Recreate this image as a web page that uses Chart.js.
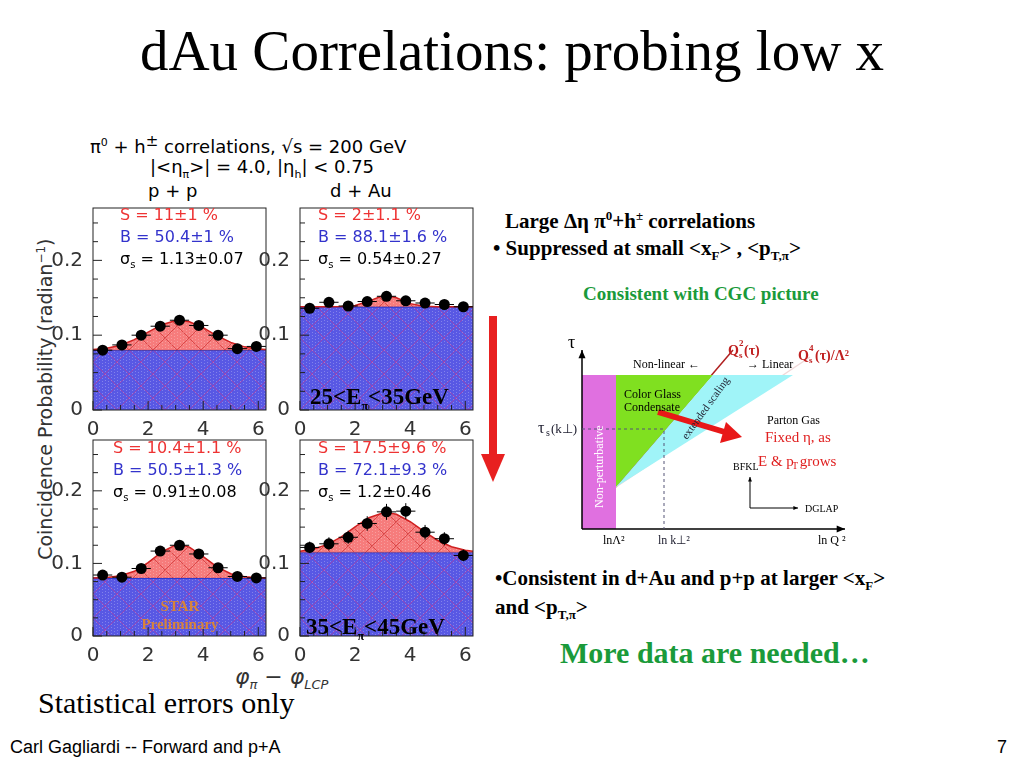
<!DOCTYPE html>
<html><head><meta charset="utf-8">
<script src="https://cdn.jsdelivr.net/npm/chart.js@4"></script>
<style>
body{margin:0;width:1024px;height:768px;position:relative;background:#fff;overflow:hidden;font-family:"Liberation Serif",serif}
.t{position:absolute;white-space:nowrap}
.h{font-family:"DejaVu Sans",sans-serif}
canvas{position:absolute}
.pt{position:absolute;font-family:"DejaVu Sans",sans-serif;font-size:16px;line-height:22px;white-space:nowrap}
</style></head><body>
<div class="t" style="left:0;width:1024px;text-align:center;top:18px;font-size:57px">dAu Correlations: probing low x</div>
<div class="t h" style="left:90px;top:132px;font-size:18px">π<sup style="font-size:11px">0</sup> + h<sup>±</sup> correlations, √s = 200 GeV</div>
<div class="t h" style="left:150px;top:156px;font-size:18px">|&lt;η<sub style="font-size:11px">π</sub>&gt;| = 4.0, |η<sub style="font-size:11px">h</sub>| &lt; 0.75</div>
<div class="t h" style="left:148px;top:180px;font-size:18px">p + p</div>
<div class="t h" style="left:330px;top:180px;font-size:18px">d + Au</div>
<div class="t h" style="left:-145px;top:388px;width:380px;text-align:center;font-size:19px;color:#333;transform:rotate(-90deg)">Coincidence Probability (radian<sup style="font-size:12px">−1</sup>)</div>
<div class="t h" style="left:235px;top:664px;font-size:22px;font-style:italic;color:#333">φ<sub style="font-size:13px">π</sub> − φ<sub style="font-size:13px">LCP</sub></div>
<div class="t" style="left:38px;top:686px;font-size:30px">Statistical errors only</div>
<div class="t" style="left:10px;top:737px;font-size:18px;font-family:'Liberation Sans',sans-serif">Carl Gagliardi -- Forward and p+A</div>
<div class="t" style="left:997px;top:737px;font-size:18px;font-family:'Liberation Sans',sans-serif">7</div>

<div class="t" style="left:505px;top:208px;font-size:21px;font-weight:bold">Large Δη π<sup style="font-size:13px">0</sup>+h<sup style="font-size:13px">±</sup> correlations</div>
<div class="t" style="left:493px;top:236px;font-size:21px;font-weight:bold">• Suppressed at small &lt;x<sub style="font-size:13px">F</sub>&gt; , &lt;p<sub style="font-size:13px">T,π</sub>&gt;</div>
<div class="t" style="left:583px;top:283px;font-size:19px;font-weight:bold;color:#1a9a3a">Consistent with CGC picture</div>
<div class="t" style="left:495px;top:566px;font-size:21px;font-weight:bold">•Consistent in d+Au and p+p at larger &lt;x<sub style="font-size:13px">F</sub>&gt;</div>
<div class="t" style="left:495px;top:595px;font-size:21px;font-weight:bold">and &lt;p<sub style="font-size:13px">T,π</sub>&gt;</div>
<div class="t" style="left:560px;top:636px;font-size:30px;font-weight:bold;color:#1a9a3a">More data are needed…</div>
<div style="position:absolute;left:489px;top:316px;width:8px;height:140px;background:#e82020"></div>
<div style="position:absolute;left:481px;top:454px;width:0;height:0;border-left:12px solid transparent;border-right:12px solid transparent;border-top:28px solid #e82020"></div>

<canvas id="c0" width="230" height="248" style="left:45px;top:194px"></canvas>
<canvas id="c1" width="230" height="248" style="left:252px;top:194px"></canvas>
<canvas id="c2" width="230" height="242" style="left:45px;top:426px"></canvas>
<canvas id="c3" width="230" height="242" style="left:252px;top:426px"></canvas>
<canvas id="cd" width="350" height="230" style="left:530px;top:330px"></canvas>

<div class="pt" style="left:120px;top:204px"><span style="color:#e33">S = 11±1 %</span><br><span style="color:#33c">B = 50.4±1 %</span><br>σ<sub style="font-size:10px">s</sub> = 1.13±0.07</div>
<div class="pt" style="left:318px;top:204px"><span style="color:#e33">S = 2±1.1 %</span><br><span style="color:#33c">B = 88.1±1.6 %</span><br>σ<sub style="font-size:10px">s</sub> = 0.54±0.27</div>
<div class="pt" style="left:113px;top:437px"><span style="color:#e33">S = 10.4±1.1 %</span><br><span style="color:#33c">B = 50.5±1.3 %</span><br>σ<sub style="font-size:10px">s</sub> = 0.91±0.08</div>
<div class="pt" style="left:318px;top:437px"><span style="color:#e33">S = 17.5±9.6 %</span><br><span style="color:#33c">B = 72.1±9.3 %</span><br>σ<sub style="font-size:10px">s</sub> = 1.2±0.46</div>
<div class="t" style="left:310px;top:384px;font-size:23px;font-weight:bold">25&lt;E<sub style="font-size:12px">π</sub>&lt;35GeV</div>
<div class="t" style="left:306px;top:614px;font-size:23px;font-weight:bold">35&lt;E<sub style="font-size:12px">π</sub>&lt;45GeV</div>
<div class="t" style="left:140px;top:597px;width:80px;text-align:center;font-size:15px;font-weight:bold;color:#d8843a;line-height:18px">STAR<br>Preliminary</div>

<script>
const binX=[0.35,1.05,1.75,2.44,3.14,3.84,4.54,5.24,5.93];
const fitX=[0,0.5,1,1.5,2,2.5,3,3.14,3.5,4,4.5,5,5.5,6,6.28];
const ppLow=[0.08,0.087,0.1,0.112,0.12,0.113,0.1,0.082,0.085];
const dAuLow=[0.136,0.144,0.139,0.145,0.152,0.146,0.143,0.141,0.138];
const ppHigh=[0.084,0.081,0.093,0.117,0.125,0.113,0.094,0.082,0.08];
const dAuHigh=[0.122,0.127,0.136,0.155,0.171,0.172,0.143,0.134,0.111];
const errs=[[0.003,0.003,0.003,0.003,0.003,0.003,0.003,0.003,0.003],[0.003,0.003,0.003,0.003,0.003,0.003,0.003,0.003,0.003],[0.003,0.003,0.004,0.004,0.004,0.004,0.004,0.003,0.003],[0.008,0.009,0.009,0.01,0.011,0.011,0.01,0.009,0.008]];
const bgLevel=[0.08,0.138,0.08,0.115];
const fitPPLow=[.0808,.0826,.0866,.094,.104,.114,.1196,.12,.118,.110,.0992,.0904,.0844,.0816,.0808];
const fitDAuLow=[.138,.138,.138,.1382,.1396,.1455,.1526,.153,.150,.1422,.1386,.138,.138,.138,.138];
const fitPPHigh=[.080,.0807,.0829,.0891,.101,.1159,.1255,.126,.1225,.1094,.0952,.0858,.0816,.0803,.080];
const fitDAuHigh=[.1168,.1199,.1262,.1366,.1502,.1629,.1695,.17,.1676,.1574,.1440,.1316,.123,.1182,.1168];
const xTicks=[0,2,4,6], yTicks=[0,0.1,0.2];

function hatch(base,line){const c=document.createElement('canvas');c.width=c.height=24;const g=c.getContext('2d');g.fillStyle=base;g.fillRect(0,0,24,24);g.strokeStyle=line;g.lineWidth=1;g.beginPath();g.moveTo(0,0);g.lineTo(24,24);g.moveTo(24,0);g.lineTo(0,24);g.stroke();g.fillStyle='rgba(255,255,255,0.25)';for(let i=0;i<24;i+=3)for(let j=(i/3)%2?1:0;j<24;j+=3)g.fillRect(i,j,1,1);return g.createPattern(c,'repeat');}

const pts=[ppLow,dAuLow,ppHigh,dAuHigh], fits=[fitPPLow,fitDAuLow,fitPPHigh,fitDAuHigh];
const errPlugin={id:'err',afterDatasetsDraw(ch,args,d){if(!d||!d.v)return;const xs=ch.scales.x,ys=ch.scales.y,g=ch.ctx;g.save();g.strokeStyle='#000';g.lineWidth=1;
 binX.forEach((x,i)=>{const px=xs.getPixelForValue(x),py=ys.getPixelForValue(d.v[i]);g.beginPath();g.moveTo(xs.getPixelForValue(x-0.35),py);g.lineTo(xs.getPixelForValue(x+0.35),py);g.moveTo(px,ys.getPixelForValue(d.v[i]-d.e[i]));g.lineTo(px,ys.getPixelForValue(d.v[i]+d.e[i]));g.stroke();g.fillStyle='#000';g.beginPath();g.arc(px,py,5.5,0,7);g.fill();});
 const a=ch.chartArea;g.strokeStyle='#222';g.strokeRect(a.left,a.top,a.right-a.left,a.bottom-a.top);
 for(let v=0;v<0.27;v+=0.025){const py=ys.getPixelForValue(v);g.beginPath();g.moveTo(a.left,py);g.lineTo(a.left+(Math.abs(v*10-Math.round(v*10))<1e-6?9:5),py);g.stroke();}
 for(let v=0;v<6.3;v+=0.5){const px=xs.getPixelForValue(v);g.beginPath();g.moveTo(px,a.bottom);g.lineTo(px,a.bottom-(v%2==0?9:5));g.stroke();}
 g.restore();}};
for(let k=0;k<4;k++){
 const ctx=document.getElementById('c'+k).getContext('2d');
 const bg=fitX.map(()=>bgLevel[k]);
 new Chart(ctx,{type:'line',data:{labels:fitX,datasets:[
  {data:fitX.map((x,i)=>({x,y:fits[k][i]})),borderColor:'#d02020',borderWidth:1.5,pointRadius:0,fill:'+1',backgroundColor:hatch('rgba(245,110,110,0.9)','rgba(200,40,40,0.6)')},
  {data:fitX.map((x,i)=>({x,y:bg[i]})),borderColor:'#2030c0',borderWidth:1.5,pointRadius:0,fill:'origin',backgroundColor:hatch('rgba(70,70,225,0.9)','rgba(180,60,160,0.7)')}]},
  options:{animation:false,responsive:false,plugins:{legend:{display:false},tooltip:{enabled:false},err:{v:pts[k],e:errs[k]}},layout:{padding:{right:9,top:5}},
  scales:{x:{type:'linear',min:0,max:6.28,grid:{display:false},border:{display:false},afterBuildTicks:s=>{s.ticks=xTicks.map(v=>({value:v}))},ticks:{font:{size:20,family:'DejaVu Sans'},color:'#333',padding:0}},
   y:{min:0,max:0.27,grid:{display:false},border:{display:false},afterFit:s=>{s.width=48},afterBuildTicks:s=>{s.ticks=yTicks.map(v=>({value:v}))},ticks:{font:{size:20,family:'DejaVu Sans'},color:'#333',padding:2,callback:v=>v==0?'0':v.toFixed(1)}}}},
  plugins:[errPlugin]});
}

// diagram (pixel-like data coords)
const pinkX=[52,86,86,52,52],pinkY=[45,45,199,199,45];
const greenX=[86,183,86,86],greenY=[45,45,157,45];
const cyanX=[86,183,263,86],cyanY=[157,45,45,157];
const qs2X=[86,203],qs2Y=[157,20];
const qs4X=[86,280],qs4Y=[157,27];
const poly=(xs,ys)=>xs.map((x,i)=>({x,y:ys[i]}));
const dLabels=[["τ",38,18,18,'#000'],["Non-linear ←",103,38,12,'#000'],["→ Linear",217,38,12,'#000'],["Color Glass",94,68,12,'#000'],["Condensate",94,81,12,'#000'],["Parton Gas",237,94,12,'#000'],["Fixed η, as",235,112,15,'#e02020'],["E & p",228,136,15,'#e02020'],["BFKL",203,140,10,'#000'],["DGLAP",275,182,10,'#000'],["τ",8,103,16,'#223'],["lnΛ²",73,214,12,'#000'],["ln k⊥²",128,214,12,'#223'],["ln Q ²",288,214,12,'#000']];
const diagPlugin={id:'diag',afterDatasetsDraw(ch){const g=ch.ctx,X=v=>ch.scales.x.getPixelForValue(v),Y=v=>ch.scales.y.getPixelForValue(v);g.save();
 g.strokeStyle='#000';g.lineWidth=1.5;const ar=(x1,y1,x2,y2,s)=>{g.beginPath();g.moveTo(X(x1),Y(y1));g.lineTo(X(x2),Y(y2));g.stroke();const an=Math.atan2(Y(y2)-Y(y1),X(x2)-X(x1));g.beginPath();g.moveTo(X(x2),Y(y2));g.lineTo(X(x2)-s*Math.cos(an-0.4),Y(y2)-s*Math.sin(an-0.4));g.lineTo(X(x2)-s*Math.cos(an+0.4),Y(y2)-s*Math.sin(an+0.4));g.fill();};
 g.fillStyle='#000';ar(52,199,52,20,9);ar(52,199,315,199,9);g.lineWidth=1;ar(220,178,220,147,5);ar(220,178,268,178,5);
 g.setLineDash([3,3]);g.strokeStyle='#557';g.beginPath();g.moveTo(X(52),Y(99));g.lineTo(X(134),Y(99));g.lineTo(X(134),Y(199));g.stroke();g.setLineDash([]);
 g.fillStyle='#e81818';g.strokeStyle='#e81818';g.lineWidth=6;g.beginPath();g.moveTo(X(128),Y(82));g.lineTo(X(198),Y(103));g.stroke();g.beginPath();g.moveTo(X(212),Y(107));g.lineTo(X(190),Y(113));g.lineTo(X(196),Y(92));g.fill();
 g.textBaseline='alphabetic';
 dLabels.forEach(l=>{g.font=l[3]+'px "Liberation Serif",serif';g.fillStyle=l[4];g.fillText(l[0],X(l[1]),Y(l[2]));});
 g.font='bold 14px "Liberation Serif"';g.fillStyle='#c02020';g.fillText('Q',X(198),Y(25));g.fillText('Q',X(268),Y(30));g.font='bold 9px "Liberation Serif"';g.fillText('s',X(209),Y(28));g.fillText('2',X(209),Y(16));g.fillText('s',X(279),Y(33));g.fillText('4',X(279),Y(21));
 g.font='bold 14px "Liberation Serif"';g.fillText('(τ)',X(214),Y(25));g.fillText('(τ)/Λ²',X(285),Y(30));
 g.font='10px "Liberation Serif"';g.fillStyle='#e02020';g.fillText('T',X(262),Y(139));g.font='15px "Liberation Serif"';g.fillText(' grows',X(266),Y(136));
 g.fillStyle='#223';g.font='10px "Liberation Serif"';g.fillText('s',X(16),Y(106));g.font='13px "Liberation Serif"';g.fillText('(k⊥)',X(21),Y(103));
 g.save();g.translate(X(73),Y(178));g.rotate(-Math.PI/2);g.font='12px "Liberation Serif"';g.fillStyle='#fff';g.fillText('Non-perturbative',0,0);g.restore();
 g.save();g.translate(X(157),Y(110));g.rotate(-0.95);g.font='11px "Liberation Serif"';g.fillStyle='#223';g.fillText('extended scaling',0,0);g.restore();
 g.restore();}};
new Chart(document.getElementById('cd').getContext('2d'),{type:'scatter',data:{datasets:[
 {data:poly(pinkX,pinkY),showLine:true,fill:'shape',backgroundColor:'#e070e0',borderWidth:0,pointRadius:0},
 {data:poly(cyanX,cyanY),showLine:true,fill:'shape',backgroundColor:'#a0f4f8',borderWidth:0,pointRadius:0},
 {data:poly(greenX,greenY),showLine:true,fill:'shape',backgroundColor:'#80e020',borderWidth:0,pointRadius:0},
 {data:poly(qs4X,qs4Y),showLine:true,borderColor:'#f0d8d8',borderWidth:1.5,pointRadius:0},
 {data:poly(qs2X,qs2Y),showLine:true,borderColor:'#b02020',borderWidth:1.5,pointRadius:0}]},
 options:{animation:false,responsive:false,layout:{padding:0},plugins:{legend:{display:false},tooltip:{enabled:false}},
 scales:{x:{display:false,min:0,max:350},y:{display:false,min:0,max:230,reverse:true}}},plugins:[diagPlugin]});
</script></body></html>
